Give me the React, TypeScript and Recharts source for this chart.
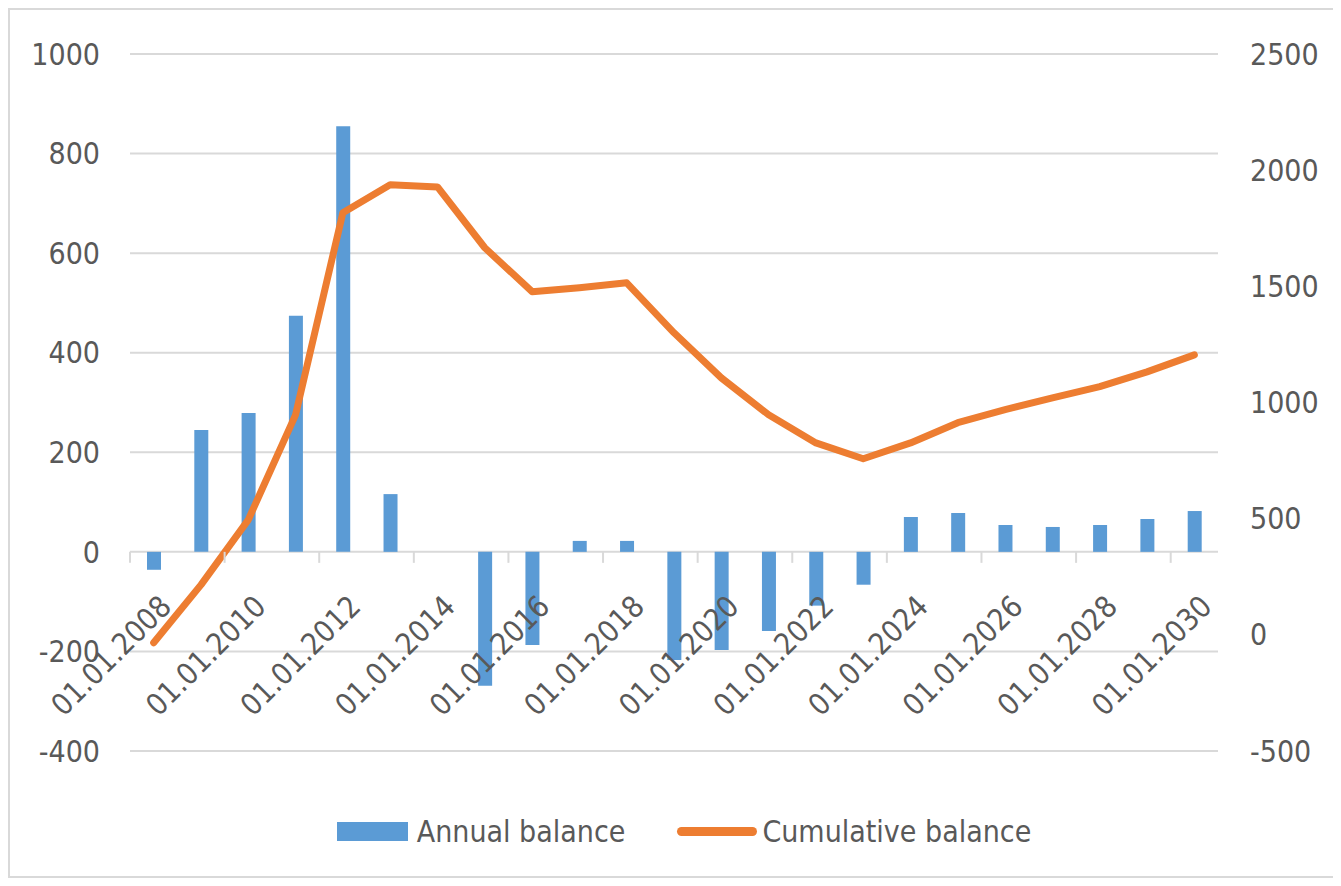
import React from "react";
import { ComposedChart, Bar, Line, XAxis, YAxis, CartesianGrid, Legend } from "recharts";

const years = [
  "01.01.2008", "01.01.2009", "01.01.2010", "01.01.2011", "01.01.2012", "01.01.2013",
  "01.01.2014", "01.01.2015", "01.01.2016", "01.01.2017", "01.01.2018", "01.01.2019",
  "01.01.2020", "01.01.2021", "01.01.2022", "01.01.2023", "01.01.2024", "01.01.2025",
  "01.01.2026", "01.01.2027", "01.01.2028", "01.01.2029", "01.01.2030",
];
const annual = [-36, 245, 279, 474, 855, 116, 0, -269, -187, 22, 22, -217, -197, -159, -108, -66, 70, 78, 54, 50, 54, 66, 82];
const cumulative = [-34, 215, 495, 947, 1817, 1937, 1928, 1666, 1477, 1494, 1515, 1300, 1106, 947, 826, 758, 826, 913, 969, 1020, 1068, 1132, 1205];
const leftTicks = [-400, -200, 0, 200, 400, 600, 800, 1000];
const rightTicks = [-500, 0, 500, 1000, 1500, 2000, 2500];

const data = years.map((d, i) => ({ date: d, annual: annual[i], cumulative: cumulative[i] }));

const W = 1327;
const H = 866;
const M = { top: 44, right: 0, bottom: 25, left: 0 };
const LEGEND_H = 40;
const XAXIS_H = 60;
const PLOT_H = H - M.top - M.bottom - LEGEND_H - XAXIS_H;
const PLOT_W = W - 120 - 119;
const BAND = PLOT_W / years.length;
// distance from the plot bottom up to the zero line of the left axis
const ZERO_UP = (PLOT_H * (0 - leftTicks[0])) / (leftTicks[leftTicks.length - 1] - leftTicks[0]);

const FONT = '"Liberation Sans Narrow", "DejaVu Sans Condensed", sans-serif';
const TEXT = "#595959";
const GRID = "#d9d9d9";

const DateTick = ({ x, y, index, payload }: any) => {
  if (index % 2 !== 0) return null;
  const y0 = y - ZERO_UP;
  const tx = x - BAND / 2;
  const ax = x + 12;
  const ay = y0 + 49;
  return (
    <g>
      <line x1={tx} y1={y0} x2={tx} y2={y0 + 11} stroke={GRID} strokeWidth={2} />
      <text x={ax} y={ay} dy="0.35em" textAnchor="end" fill={TEXT} fontSize={30} fontFamily={FONT}
        transform={`rotate(-45, ${ax}, ${ay})`}>
        {payload.value}
      </text>
    </g>
  );
};

const LegendContent = () => (
  <div style={{ display: "flex", justifyContent: "center", alignItems: "center", fontFamily: FONT, fontSize: 30, color: TEXT, height: LEGEND_H, paddingLeft: 21 }}>
    <span style={{ display: "inline-block", width: 71, height: 19, background: "#5b9bd5", marginRight: 9 }} />
    <span style={{ marginRight: 52 }}>Annual balance</span>
    <span style={{ display: "inline-block", width: 80, height: 9, borderRadius: 5, background: "#ed7d31", marginRight: 5 }} />
    <span>Cumulative balance</span>
  </div>
);

export default function App() {
  return (
    <div style={{ border: `2px solid ${GRID}`, width: W, height: H, background: "#fff" }}>
      <ComposedChart width={W} height={H} data={data} margin={M} barCategoryGap={0}>
        <CartesianGrid yAxisId="left" vertical={false} stroke={GRID} strokeWidth={2} />
        <XAxis dataKey="date" height={XAXIS_H} axisLine={false} tickLine={false} tickSize={0} tickMargin={0}
          interval={0} tick={<DateTick />} />
        <YAxis yAxisId="left" domain={[-400, 1000]} ticks={leftTicks} width={120} axisLine={false} tickLine={false}
          tickSize={0} tickMargin={30} tick={{ fill: TEXT, fontSize: 30, fontFamily: FONT }} />
        <YAxis yAxisId="right" orientation="right" domain={[-500, 2500]} ticks={rightTicks} width={119} axisLine={false}
          tickLine={false} tickSize={0} tickMargin={32} tick={{ fill: TEXT, fontSize: 30, fontFamily: FONT, textAnchor: "start" }} />
        <Legend verticalAlign="bottom" height={LEGEND_H} content={<LegendContent />} />
        <Bar yAxisId="left" dataKey="annual" name="Annual balance" fill="#5b9bd5" barSize={14} isAnimationActive={false} />
        <Line yAxisId="right" dataKey="cumulative" name="Cumulative balance" type="linear" stroke="#ed7d31" strokeWidth={7}
          strokeLinecap="round" strokeLinejoin="round" dot={false} activeDot={false} isAnimationActive={false} />
      </ComposedChart>
    </div>
  );
}
